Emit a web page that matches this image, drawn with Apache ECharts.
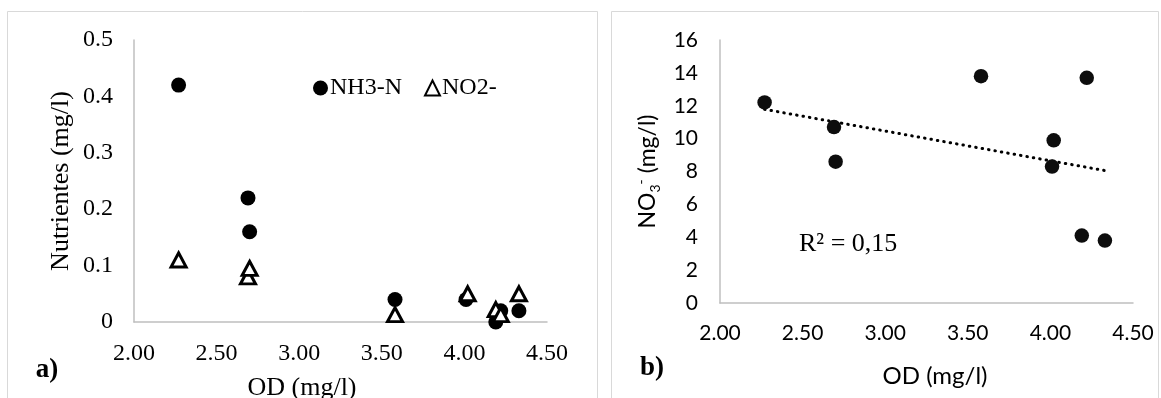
<!DOCTYPE html>
<html>
<head>
<meta charset="utf-8">
<script src="https://cdn.jsdelivr.net/npm/echarts@6/dist/echarts.min.js"></script>
<style>
  html, body { margin: 0; padding: 0; background: #fff; }
  #chart { width: 1161px; height: 398px; }
</style>
</head>
<body>
<div id="chart"></div>
<script>
// Dissolved oxygen (OD, mg/l) on the x axis of both panels
const odTicks = [2.0, 2.5, 3.0, 3.5, 4.0, 4.5];

// Panel a) — NH3-N and NO2- against OD
const odNH3 = [2.27, 2.69, 2.70, 3.58, 4.01, 4.19, 4.22, 4.33];
const nh3   = [0.42, 0.22, 0.16, 0.04, 0.04, 0.00, 0.02, 0.02];
const odNO2 = [2.27, 2.69, 2.70, 3.58, 4.02, 4.19, 4.22, 4.33];
const no2   = [0.11, 0.08, 0.095, 0.013, 0.05, 0.022, 0.013, 0.05];
const nutrientTicks = [0, 0.1, 0.2, 0.3, 0.4, 0.5];

// Panel b) — NO3- against OD
const odNO3 = [2.27, 2.69, 2.70, 3.58, 4.01, 4.02, 4.19, 4.22, 4.33];
const no3   = [12.2, 10.7, 8.6, 13.8, 8.3, 9.9, 4.1, 13.7, 3.8];
const nitrateTicks = [0, 2, 4, 6, 8, 10, 12, 14, 16];

const pairs = (xs, ys) => xs.map((x, i) => [x, ys[i]]);

// Least-squares fit for the NO3- trend line and its R²
function linearFit(xs, ys) {
  const n = xs.length;
  const mx = xs.reduce((a, b) => a + b, 0) / n;
  const my = ys.reduce((a, b) => a + b, 0) / n;
  let sxy = 0, sxx = 0, syy = 0;
  for (let i = 0; i < n; i++) {
    sxy += (xs[i] - mx) * (ys[i] - my);
    sxx += (xs[i] - mx) ** 2;
    syy += (ys[i] - my) ** 2;
  }
  const slope = sxy / sxx;
  return { slope, intercept: my - slope * mx, r2: (sxy * sxy) / (sxx * syy) };
}
const fit = linearFit(odNO3, no3);
const xLo = Math.min(...odNO3), xHi = Math.max(...odNO3);
const trend = [[xLo, fit.intercept + fit.slope * xLo], [xHi, fit.intercept + fit.slope * xHi]];
const r2Text = 'R² = ' + fit.r2.toFixed(2).replace('.', ',');

const SERIF = '"Liberation Serif", "Times New Roman", serif';
const SANS = 'Lato, Carlito, Calibri, "Open Sans", sans-serif';
const axisGrey = '#bfbfbf';

function xAxisFor(gridIndex, font, size, labelMargin, nameSize, nameGap, namePad) {
  return {
    type: 'value', gridIndex,
    min: odTicks[0], max: odTicks[odTicks.length - 1], interval: 0.5,
    axisLine: { show: true, lineStyle: { color: axisGrey, width: 1.5 } },
    axisTick: { show: false }, splitLine: { show: false },
    axisLabel: { formatter: v => v.toFixed(2), margin: labelMargin, fontSize: size, fontFamily: font, color: '#000' },
    name: 'OD (mg/l)', nameLocation: 'middle', nameGap,
    nameTextStyle: { fontSize: nameSize, fontFamily: font, color: '#000', padding: namePad }
  };
}

const chart = echarts.init(document.getElementById('chart'), null, { renderer: 'canvas' });
chart.setOption({
  animation: false,
  backgroundColor: '#fff',
  grid: [
    { left: 134, top: 40, width: 413, height: 282, outerBoundsMode: 'none', containLabel: false },
    { left: 720, top: 40, width: 413, height: 263, outerBoundsMode: 'none', containLabel: false }
  ],
  xAxis: [
    xAxisFor(0, SERIF, 24, 20, 26, 53, [0, 77, 0, 0]),
    xAxisFor(1, SANS, 21, 20, 24, 61, [0, 0, 0, 17])
  ],
  yAxis: [
    {
      type: 'value', gridIndex: 0,
      min: nutrientTicks[0], max: nutrientTicks[nutrientTicks.length - 1], interval: 0.1,
      axisLine: { show: true, lineStyle: { color: axisGrey, width: 1.5 } },
      axisTick: { show: false }, splitLine: { show: false },
      axisLabel: { formatter: v => (v === 0 ? '0' : v.toFixed(1)), margin: 21, fontSize: 24, fontFamily: SERIF, color: '#000' },
      name: 'Nutrientes (mg/l)', nameLocation: 'middle', nameGap: 60,
      nameTextStyle: { fontSize: 26, fontFamily: SERIF, color: '#000' }
    },
    {
      type: 'value', gridIndex: 1,
      min: nitrateTicks[0], max: nitrateTicks[nitrateTicks.length - 1], interval: 2,
      axisLine: { show: true, lineStyle: { color: axisGrey, width: 1.5 } },
      axisTick: { show: false }, splitLine: { show: false },
      axisLabel: { margin: 22, fontSize: 21, fontFamily: SANS, color: '#000' },
      name: '{n|NO}{s|3}{p|-}{n| (mg/l)}', nameLocation: 'middle', nameGap: 58,
      nameTextStyle: {
        color: '#000',
        rich: {
          n: { fontSize: 23, fontFamily: SANS, color: '#000', lineHeight: 28, verticalAlign: 'middle' },
          s: { fontSize: 14, fontFamily: SANS, color: '#000', lineHeight: 28, verticalAlign: 'bottom' },
          p: { fontSize: 14, fontFamily: SANS, color: '#000', lineHeight: 28, verticalAlign: 'top' }
        }
      }
    }
  ],
  legend: {
    data: ['NH3-N', 'NO2-'],
    left: 313, top: 76, padding: 0,
    itemWidth: 15, itemHeight: 15, itemGap: 22,
    textStyle: { fontSize: 24, fontFamily: SERIF, color: '#000', padding: [0, 0, 0, -3] },
    selectedMode: false
  },
  series: [
    {
      name: 'NH3-N', type: 'scatter', xAxisIndex: 0, yAxisIndex: 0,
      data: pairs(odNH3, nh3), symbol: 'circle', symbolSize: 15,
      itemStyle: { color: '#000', opacity: 1 }, emphasis: { disabled: true }
    },
    {
      name: 'NO2-', type: 'scatter', xAxisIndex: 0, yAxisIndex: 0,
      data: pairs(odNO2, no2), symbol: 'triangle', symbolSize: [15, 14],
      itemStyle: { color: '#fff', borderColor: '#000', borderWidth: 3, opacity: 1 }, emphasis: { disabled: true }
    },
    {
      name: 'Lineal (NO3-)', type: 'line', xAxisIndex: 1, yAxisIndex: 1,
      data: trend, showSymbol: false, symbol: 'none', z: 1,
      lineStyle: { color: '#000', width: 3, type: [0.5, 6], cap: 'round' },
      emphasis: { disabled: true }
    },
    {
      name: 'NO3-', type: 'scatter', xAxisIndex: 1, yAxisIndex: 1,
      data: pairs(odNO3, no3), symbol: 'circle', symbolSize: 14.5, z: 3,
      itemStyle: { color: '#0d0d0d', opacity: 1 }, emphasis: { disabled: true }
    }
  ],
  graphic: [
    { type: 'rect', silent: true, shape: { x: 7.5, y: 11.5, width: 590, height: 420 },
      style: { fill: 'none', stroke: '#d9d9d9', lineWidth: 1 } },
    { type: 'rect', silent: true, shape: { x: 611.5, y: 11.5, width: 547, height: 420 },
      style: { fill: 'none', stroke: '#d9d9d9', lineWidth: 1 } },
    { type: 'text', silent: true, x: 47, y: 370,
      style: { text: 'a)', font: 'bold 27px ' + SERIF, fill: '#000', align: 'center', verticalAlign: 'middle' } },
    { type: 'text', silent: true, x: 652, y: 368,
      style: { text: 'b)', font: 'bold 27px ' + SERIF, fill: '#000', align: 'center', verticalAlign: 'middle' } },
    { type: 'text', silent: true, x: 799, y: 244,
      style: { text: r2Text, font: '26px ' + SERIF, fill: '#000', align: 'left', verticalAlign: 'middle' } }
  ]
});
</script>
</body>
</html>
